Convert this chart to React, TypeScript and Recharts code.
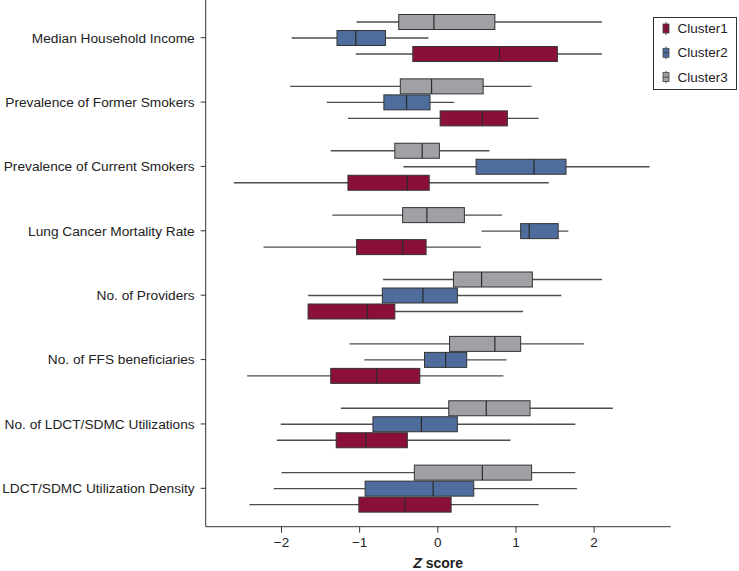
import React from "react";
import { BarChart, Bar, XAxis, YAxis } from "recharts";

const categories = [
  "Median Household Income",
  "Prevalence of Former Smokers",
  "Prevalence of Current Smokers",
  "Lung Cancer Mortality Rate",
  "No. of Providers",
  "No. of FFS beneficiaries",
  "No. of LDCT/SDMC Utilizations",
  "LDCT/SDMC Utilization Density",
];

// [min, q1, median, q3, max] per category
const cluster1 = [
  [-1.05, -0.32, 0.79, 1.53, 2.1],
  [-1.15, 0.03, 0.57, 0.89, 1.29],
  [-2.61, -1.15, -0.39, -0.11, 1.42],
  [-2.23, -1.04, -0.45, -0.15, 0.55],
  [-1.66, -1.66, -0.9, -0.55, 1.09],
  [-2.44, -1.37, -0.78, -0.23, 0.84],
  [-2.06, -1.3, -0.92, -0.39, 0.93],
  [-2.41, -1.01, -0.42, 0.17, 1.29],
];
const cluster2 = [
  [-1.87, -1.29, -1.05, -0.67, -0.12],
  [-1.42, -0.69, -0.4, -0.1, 0.21],
  [-0.44, 0.49, 1.23, 1.64, 2.71],
  [0.56, 1.06, 1.17, 1.54, 1.67],
  [-1.66, -0.71, -0.19, 0.25, 1.58],
  [-0.94, -0.17, 0.1, 0.37, 0.88],
  [-2.01, -0.83, -0.21, 0.25, 1.76],
  [-2.1, -0.93, -0.06, 0.46, 1.78],
];
const cluster3 = [
  [-1.04, -0.5, -0.05, 0.73, 2.1],
  [-1.89, -0.48, -0.08, 0.58, 1.2],
  [-1.37, -0.55, -0.2, 0.02, 0.66],
  [-1.35, -0.45, -0.14, 0.34, 0.82],
  [-0.7, 0.2, 0.56, 1.21, 2.1],
  [-1.13, 0.15, 0.73, 1.06, 1.87],
  [-1.24, 0.14, 0.62, 1.18, 2.24],
  [-2.0, -0.3, 0.57, 1.2, 1.76],
];

const seriesNames = ["Cluster1", "Cluster2", "Cluster3"];
const seriesColors = ["#8A1038", "#4E6D9C", "#A0A1A5"];
const xTicks = [-2, -1, 0, 1, 2];

const data = categories.map((name, i) => ({
  name,
  c1: cluster1[i],
  c2: cluster2[i],
  c3: cluster3[i],
}));

const FONT = "'Liberation Sans', Arial, Helvetica, sans-serif";

const makeBox = (key: string, color: string) => (props: any) => {
  const { x, y, width, height, payload } = props;
  const s = payload[key] as number[];
  const [mn, q1, md, q3, mx] = s;
  const px = (v: number) => x + ((v - mn) / (mx - mn)) * width;
  const cy = y + height / 2;
  return (
    <g>
      <line x1={px(mn)} x2={px(mx)} y1={cy} y2={cy} stroke="#4d4d4d" strokeWidth={1.3} />
      <rect
        x={px(q1)}
        y={y}
        width={px(q3) - px(q1)}
        height={height}
        fill={color}
        stroke="#333"
        strokeWidth={1}
      />
      <line x1={px(md)} x2={px(md)} y1={y} y2={y + height} stroke="#2a2a2a" strokeWidth={1.2} />
    </g>
  );
};

const fmt = (v: number) => (v < 0 ? "\u2212" + Math.abs(v) : String(v));

const YTick = (props: any) => {
  const { x, y, payload } = props;
  return (
    <text
      x={x}
      y={y}
      dy="0.355em"
      textAnchor="end"
      fontFamily={FONT}
      fontSize={13.7}
      fill="#222"
    >
      {payload.value}
    </text>
  );
};

const LegendIcon = ({ color }: { color: string }) => (
  <svg width={8} height={13} style={{ display: "block" }}>
    <line x1={4} x2={4} y1={0} y2={13} stroke="#555" strokeWidth={1} />
    <rect x={1} y={2} width={6} height={9} fill={color} stroke="#444" strokeWidth={0.8} />
    <line x1={1} x2={7} y1={6.5} y2={6.5} stroke="#333" strokeWidth={0.8} />
  </svg>
);

export default function App() {
  return (
    <div style={{ position: "absolute", left: 0, top: 0, width: 739, height: 571, fontFamily: FONT }}>
      <BarChart
        width={739}
        height={571}
        data={data}
        layout="vertical"
        margin={{ top: 0, right: 68.3, bottom: 14.3, left: 0 }}
        barSize={15}
        barGap={1}
      >
        <XAxis
          type="number"
          domain={[-2.97, 2.98]}
          ticks={xTicks}
          allowDataOverflow
          tickFormatter={fmt}
          height={30}
          tickSize={6}
          tickMargin={5}
          stroke="#333"
          tick={{ fontSize: 13.5, fill: "#222", fontFamily: FONT }}
          label={{
            content: (p: any) => {
              const vb = p.viewBox || { x: 205.7, width: 465 };
              return (
                <text
                  x={vb.x + vb.width / 2}
                  y={568}
                  textAnchor="middle"
                  fontFamily={FONT}
                  fontSize={14}
                  fontWeight="bold"
                  fill="#222"
                >
                  <tspan fontStyle="italic">Z</tspan>
                  <tspan> score</tspan>
                </text>
              );
            },
          }}
        />
        <YAxis
          type="category"
          dataKey="name"
          width={205.7}
          tickSize={5}
          tickMargin={6}
          stroke="#333"
          padding={{ top: 5.5, bottom: 6.2 }}
          tick={<YTick />}
          interval={0}
        />
        <Bar
          dataKey={(d: any) => [d.c3[0], d.c3[4]]}
          name={seriesNames[2]}
          fill={seriesColors[2]}
          isAnimationActive={false}
          shape={makeBox("c3", seriesColors[2])}
        />
        <Bar
          dataKey={(d: any) => [d.c2[0], d.c2[4]]}
          name={seriesNames[1]}
          fill={seriesColors[1]}
          isAnimationActive={false}
          shape={makeBox("c2", seriesColors[1])}
        />
        <Bar
          dataKey={(d: any) => [d.c1[0], d.c1[4]]}
          name={seriesNames[0]}
          fill={seriesColors[0]}
          isAnimationActive={false}
          shape={makeBox("c1", seriesColors[0])}
        />
      </BarChart>
      <div
        style={{
          position: "absolute",
          left: 652.5,
          top: 17.3,
          width: 84,
          height: 73,
          border: "1px solid #333",
          boxSizing: "border-box",
          background: "#fff",
        }}
      >
        {seriesNames.map((n, i) => (
          <div
            key={n}
            style={{
              position: "absolute",
              left: 8,
              top: 3,
              transform: `translateY(${i * 24.3}px)`,
              height: 14,
              display: "flex",
              alignItems: "center",
              fontSize: 13.5,
              color: "#222",
              whiteSpace: "nowrap",
            }}
          >
            <LegendIcon color={seriesColors[i]} />
            <span style={{ marginLeft: 8 }}>{n}</span>
          </div>
        ))}
      </div>
    </div>
  );
}
